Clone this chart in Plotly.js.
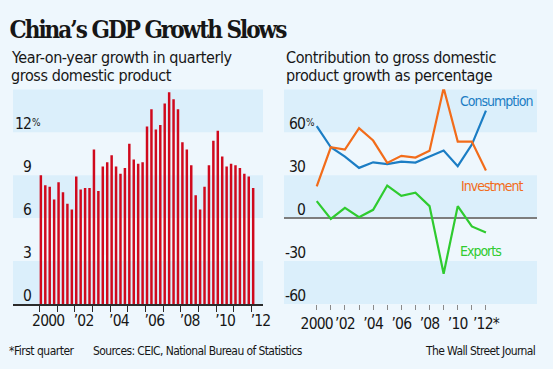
<!DOCTYPE html>
<html>
<head>
<meta charset="utf-8">
<script src="https://cdn.plot.ly/plotly-3.0.1.min.js"></script>
<style>html,body{margin:0;padding:0;background:#eef7fd;}#chart{width:553px;height:369px;}</style>
</head>
<body>
<div id="chart"></div>
<script>
// ---------- DATA ----------
const quarters = [
 '2000Q1','2000Q2','2000Q3','2000Q4','2001Q1','2001Q2','2001Q3','2001Q4',
 '2002Q1','2002Q2','2002Q3','2002Q4','2003Q1','2003Q2','2003Q3','2003Q4',
 '2004Q1','2004Q2','2004Q3','2004Q4','2005Q1','2005Q2','2005Q3','2005Q4',
 '2006Q1','2006Q2','2006Q3','2006Q4','2007Q1','2007Q2','2007Q3','2007Q4',
 '2008Q1','2008Q2','2008Q3','2008Q4','2009Q1','2009Q2','2009Q3','2009Q4',
 '2010Q1','2010Q2','2010Q3','2010Q4','2011Q1','2011Q2','2011Q3','2011Q4',
 '2012Q1'];
const gdpGrowth = [
 9.0, 8.3, 8.2, 7.3,  8.5, 7.8, 7.0, 6.6,
 8.9, 8.0, 8.1, 8.1, 10.8, 7.9, 9.6, 9.9,
 10.4, 9.6, 9.1, 9.5, 11.2,10.1, 9.8, 9.9,
 12.4,13.6,12.2,12.5, 14.0,14.8,14.3,13.6,
 11.3,10.8, 9.7, 7.6,  6.6, 8.2, 9.7,11.4,
 12.1,10.3, 9.6, 9.8,  9.7, 9.5, 9.1, 8.9,
 8.1];
const years = [2000,2001,2002,2003,2004,2005,2006,2007,2008,2009,2010,2011,2012];
const consumption = [64.2,49.5,43.0,35.1,39.0,37.7,39.5,38.8,43.0,47.2,36.3,51.4,75.1];
const investment  = [22.1,49.5,47.9,62.8,54.2,38.6,43.5,42.3,47.0,90.9,53.5,53.5,33.3];
const exportsNet  = [11.9,-0.5, 7.2, 0.7, 5.8,22.8,15.6,17.7, 8.4,-38.8, 8.4,-5.8,-10.0];
const leftLabelYears = [2000,2002,2004,2006,2008,2010,2012];
const leftTickText  = ['2000','\u201902','\u201904','\u201906','\u201908','\u201910','\u201912'];
const rightTickText = ['2000','','\u201902','','\u201904','','\u201906','','\u201908','','\u201910','','\u201912*'];
const leftYTicks = [0,3,6,9,12];
const rightYTicks = [-60,-30,0,30,60];
const leftBands = [[0,3],[6,9],[12,15]];
const rightBands = [[-60,-30],[0,30],[60,90]];
const seriesNames = ['Consumption','Investment','Exports'];

// ---------- STYLE ----------
const W = 553, H = 369;
const px = v => v / W;
const py = v => 1 - v / H;
const NARROW = '"DejaVu Sans Condensed", "Liberation Sans Narrow", "Open Sans", sans-serif';
const TITLEF = '"DejaVu Serif Condensed", "DejaVu Serif", serif';
const INK = '#161616';
const BAR = '#d0091d';
const COLORS = ['#1b7dc4', '#f26c1a', '#2fcb2f'];
const BAND = '#dbeffb';
const ls = (t, v) => `<span style="letter-spacing:${v}px">${t}</span>`;

const qx = quarters.map(q => +q.slice(0,4) + (+q.slice(5) - 1) / 4);

const traces = [
  {type:'bar', x: qx, y: gdpGrowth, xaxis:'x', yaxis:'y', width: 0.14, offset: 0.015,
   marker:{color: BAR, line:{width:0}}, hoverinfo:'skip', showlegend:false},
  {type:'scatter', mode:'lines', x: years, y: consumption, xaxis:'x2', yaxis:'y2', name: seriesNames[0],
   line:{color: COLORS[0], width:2.2}, showlegend:false},
  {type:'scatter', mode:'lines', x: years, y: investment, xaxis:'x2', yaxis:'y2', name: seriesNames[1],
   line:{color: COLORS[1], width:2.2}, showlegend:false},
  {type:'scatter', mode:'lines', x: years, y: exportsNet, xaxis:'x2', yaxis:'y2', name: seriesNames[2],
   line:{color: COLORS[2], width:2.2}, showlegend:false}
];

const shapes = [];
leftBands.forEach(b => shapes.push({type:'rect', xref:'x domain', yref:'y', x0:0, x1:1, y0:b[0], y1:b[1],
  fillcolor: BAND, line:{width:0}, layer:'below'}));
rightBands.forEach(b => shapes.push({type:'rect', xref:'x2 domain', yref:'y2', x0:0, x1:1, y0:b[0], y1:b[1],
  fillcolor: BAND, line:{width:0}, layer:'below'}));

const annotations = [];
function txt(text, x, y, size, opts) {
  annotations.push(Object.assign({text, x, y, xref:'paper', yref:'paper', showarrow:false,
    xanchor:'left', yanchor:'middle', font:{family: NARROW, size, color: INK}}, opts || {}));
}
// subtitles
txt(ls('Year-on-year growth in quarterly', -0.4), px(9), py(57), 16);
txt(ls('gross domestic product', -0.4), px(9), py(75.5), 16);
txt(ls('Contribution to gross domestic', -0.4), px(283.5), py(57), 16);
txt(ls('product growth as percentage', -0.4), px(283.5), py(75.5), 16);
// footer
txt(ls('*First quarter', -0.5), px(6.5), py(351), 12);
txt(ls('Sources: CEIC, National Bureau of Statistics', -0.6), px(90.5), py(351), 12);
txt(ls('The Wall Street Journal', -0.6), px(537), py(351), 12, {xanchor:'right'});
// y labels
leftYTicks.forEach(v => {
  annotations.push({text: ls(String(v), -0.8), x: px(33), xref:'paper', y: v, yref:'y', showarrow:false,
    xanchor:'right', yanchor:'bottom', yshift:-3, font:{family:NARROW, size:15.5, color:INK}});
});
annotations.push({text: ls('%', -0.5), x: px(30), xref:'paper', y: 12, yref:'y', showarrow:false,
  xanchor:'left', yanchor:'bottom', yshift:2, font:{family:NARROW, size:10, color:INK}});
rightYTicks.forEach(v => {
  annotations.push({text: ls(String(v), -0.8), x: px(307), xref:'paper', y: v, yref:'y2', showarrow:false,
    xanchor:'right', yanchor:'bottom', yshift:-3, font:{family:NARROW, size:15.5, color:INK}});
});
annotations.push({text: ls('%', -0.5), x: px(304), xref:'paper', y: 60, yref:'y2', showarrow:false,
  xanchor:'left', yanchor:'bottom', yshift:2, font:{family:NARROW, size:10, color:INK}});
// series labels
const labelPos = [[458, 100.7], [459, 186], [458, 250.7]];
seriesNames.forEach((n, i) => txt(ls(n, -1), px(labelPos[i][0]), py(labelPos[i][1]), 14,
  {font:{family:NARROW, size:14, color:COLORS[i]}}));

const layout = {
  width: W, height: H,
  margin: {l:0, r:0, t:0, b:0},
  paper_bgcolor: '#eef7fd', plot_bgcolor: 'rgba(0,0,0,0)',
  showlegend: false,
  title: {text: ls('China\u2019s GDP Growth Slows', -2), x: px(9.5), xanchor:'left', xref:'paper',
          y: py(30), yanchor:'middle', yref:'paper',
          font:{family: TITLEF, size: 24, color: INK, weight: 'bold'}},
  xaxis: {domain:[px(13), px(263)], range:[1998.51, 2012.64], anchor:'y',
          tickvals: leftLabelYears.map(y => y + 0.5), ticktext: leftTickText.map(t => ls(t, -0.8)), ticks:'',
          tickangle: 0, tickfont:{family:NARROW, size:15.5, color:INK}, ticklabelstandoff: 2,
          minor:{tickvals: years, ticks:'outside', ticklen:6, tickwidth:1, tickcolor:'#2b2b2b', showgrid:false},
          showline:true, linecolor:'#2b2b2b', linewidth:1.5, showgrid:false, zeroline:false, fixedrange:true},
  yaxis: {domain:[py(304), py(89.3)], range:[0,15], anchor:'x', showticklabels:false,
          showgrid:false, zeroline:false, fixedrange:true},
  xaxis2: {domain:[px(284), px(537)], range:[1997.68, 2015.62], anchor:'y2',
          tickvals: years, ticktext: rightTickText.map(t => t ? ls(t, -0.8) : ''), ticks:'outside', ticklen:5, tickwidth:1, tickcolor:'#8a8a8a',
          tickangle: 0, tickfont:{family:NARROW, size:15.5, color:INK}, ticklabelstandoff: 0,
          showline:false, showgrid:false, zeroline:false, fixedrange:true},
  yaxis2: {domain:[py(304), py(89.3)], range:[-60,90], anchor:'x2', showticklabels:false,
          showgrid:false, zeroline:true, zerolinecolor:'#7d7d7d', zerolinewidth:2, fixedrange:true},
  shapes, annotations
};

Plotly.newPlot('chart', traces, layout, {staticPlot:true, displayModeBar:false});
</script>
</body>
</html>
